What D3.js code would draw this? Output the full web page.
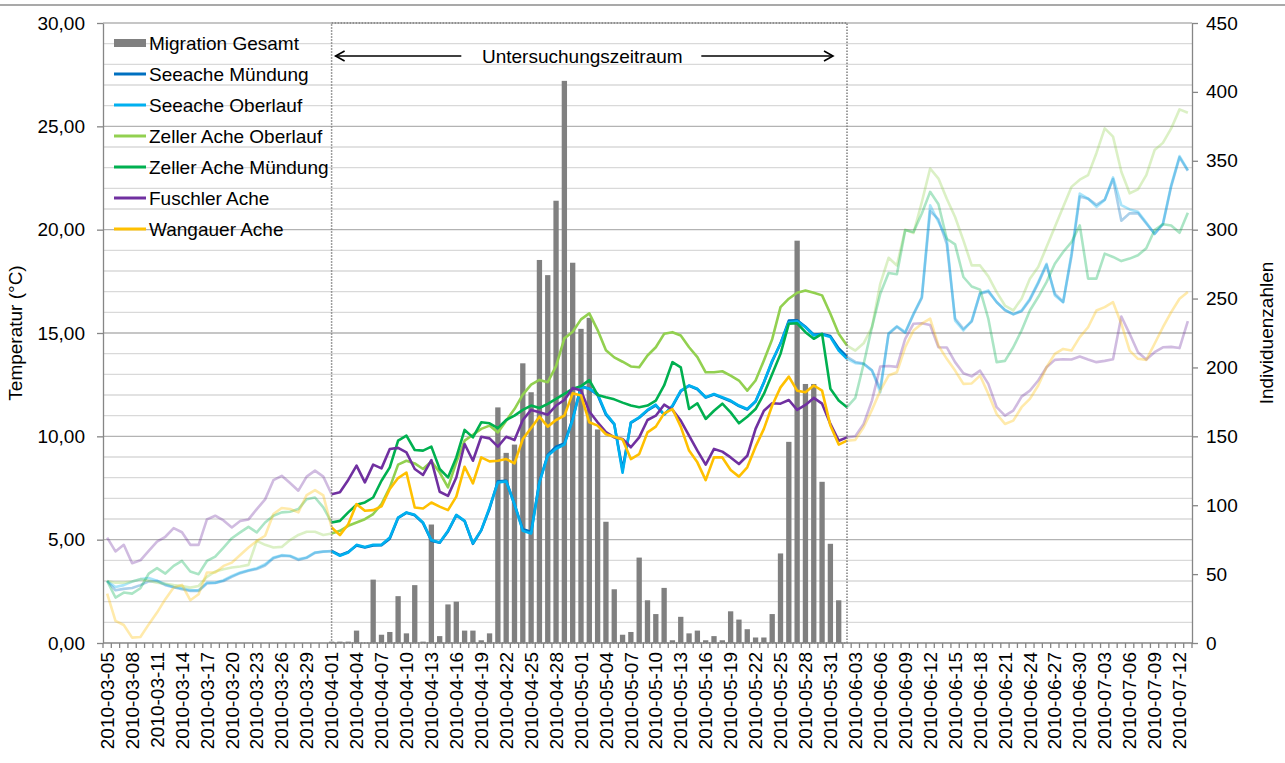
<!DOCTYPE html>
<html>
<head>
<meta charset="utf-8">
<title>Migration und Wassertemperatur 2010</title>
<script src="https://cdn.jsdelivr.net/npm/d3@7"></script>
<style>
  body { margin: 0; background: white; }
  svg text { font-family: "Liberation Sans", Arial, sans-serif; fill: #000; }
  .grid-minor { stroke: #d9d9d9; stroke-width: 1.3px; }
  .grid-major { stroke: #b3b3b3; stroke-width: 1.3px; }
  .axis path, .axis line { stroke: #868686; stroke-width: 1.3px; }
  .bar { fill: #808080; }
  .study { fill: none; stroke: #7f7f7f; stroke-width: 1.5px; stroke-dasharray: 1.5 1.5; }
</style>
</head>
<body>
<svg id="chart" width="1285" height="763"></svg>
<script>
// categories: one per day, 2010-03-05 .. 2010-07-13
const dates = d3.timeDay.range(new Date(2010, 2, 5), new Date(2010, 6, 14)).map(d3.timeFormat("%Y-%m-%d"));
const studyStart = "2010-04-01";
const studyEnd = "2010-06-02";

// Migration Gesamt (individuals per day), 2010-04-01 .. 2010-06-01
const migrationStart = "2010-04-01";
const migration = [
  1, 1, 1, 9, 0, 46, 6, 8, 34, 7, 42, 1, 86, 5, 28, 30, 9, 9, 2, 7,
  171, 138, 144, 203, 182, 278, 267, 321, 408, 276, 228, 236, 155, 88, 39, 6, 8, 62, 31, 21,
  40, 2, 19, 7, 9, 2, 5, 2, 23, 17, 10, 4, 4, 21, 65, 146, 292, 188, 188, 117,
  72, 31
];

// water temperature (°C), one value per day in dates
const seeacheMuendung = [
  3.0, 2.55, 2.62, 2.66, 2.8, 2.98, 3.0, 2.8, 2.7, 2.6, 2.52, 2.52, 2.88, 2.9, 3.0, 3.2, 3.38, 3.5, 3.58, 3.75, 4.1, 4.22, 4.2, 4.02, 4.12, 4.36, 4.42,
  4.45, 4.25, 4.4, 4.72, 4.62, 4.72, 4.73, 5.05, 6.05, 6.3, 6.18, 5.8, 4.95, 4.85, 5.4, 6.18, 5.9, 4.8, 5.45, 6.5, 7.82, 7.85, 6.7, 5.5, 5.38, 7.8, 9.1, 9.5, 9.66, 10.85, 12.42, 12.3, 12.0, 11.05, 10.58,
  8.4, 10.65, 10.9, 11.25, 11.5, 11.05, 11.45, 12.18, 12.45, 12.28, 11.88, 12.02, 11.86, 11.7, 11.46, 11.3, 11.68, 12.6, 13.62, 14.5, 15.6, 15.62, 15.3, 14.92, 14.95, 14.85, 14.25, 13.85,
  13.6, 13.52, 13.2, 12.3, 14.95, 15.3, 15.0, 15.9, 16.7, 20.9, 20.5, 19.3, 15.7, 15.2, 15.55, 16.9, 17.0, 16.5, 16.1, 15.9, 16.05, 16.6, 17.4, 18.3, 16.9, 16.5, 18.7, 21.6, 21.5, 21.2, 21.45, 22.45, 20.43, 20.79, 20.8, 20.3, 19.8, 20.25, 22.1, 23.5, 22.85
];
const seeacheOberlauf = [
  3.0, 2.71, 2.8, 2.97, 3.09, 3.14, 3.01, 2.84, 2.71, 2.65, 2.55, 2.55, 2.92, 2.92, 3.04, 3.25, 3.41, 3.52, 3.62, 3.81, 4.14, 4.25, 4.22, 4.06, 4.14, 4.38, 4.43,
  4.43, 4.22, 4.38, 4.75, 4.65, 4.75, 4.75, 5.1, 6.07, 6.32, 6.2, 5.83, 4.98, 4.86, 5.43, 6.2, 5.91, 4.83, 5.46, 6.56, 7.77, 7.82, 6.72, 5.43, 5.3, 7.77, 9.06, 9.4, 9.6, 10.8, 12.4, 12.3, 12.05, 11.1, 10.6,
  8.24, 10.68, 10.92, 11.28, 11.53, 11.05, 11.49, 12.21, 12.46, 12.3, 11.89, 12.05, 11.89, 11.73, 11.49, 11.32, 11.7, 12.62, 13.67, 14.48, 15.52, 15.57, 15.28, 14.88, 14.93, 14.8, 14.15, 13.75,
  13.54, 13.5, 13.18, 12.13, 14.99, 15.33, 15.04, 15.93, 16.74, 21.18, 20.37, 19.56, 15.6, 15.12, 15.6, 16.93, 17.06, 16.49, 16.12, 15.91, 16.09, 16.66, 17.46, 18.35, 16.82, 16.49, 18.84, 21.75, 21.5, 21.1, 21.43, 22.53, 21.19, 20.98, 20.87, 20.34, 19.79, 20.3, 22.16, 23.56, 22.88
];
const zellerOberlauf = [
  3.0, 2.92, 2.92, 2.97, 3.09, 3.01, 2.92, 2.87, 2.81, 2.76, 2.68, 2.76, 3.2, 3.46, 3.57, 3.65, 3.7, 3.78, 4.94, 4.75, 4.62, 4.65, 4.98, 5.23, 5.38, 5.38, 5.23,
  5.3, 5.43, 5.67, 5.83, 5.99, 6.24, 6.72, 7.53, 8.63, 8.82, 8.69, 8.42, 8.79, 8.25, 7.53, 8.74, 9.79, 10.08, 10.36, 10.52, 10.19, 10.76, 11.32, 12.02, 12.5, 12.73, 12.62, 13.4, 14.74, 15.06, 15.66, 15.95, 15.14, 14.17, 13.82,
  13.61, 13.38, 13.34, 13.91, 14.31, 14.96, 15.04, 14.88, 14.31, 13.83, 13.1, 13.1, 13.15, 12.94, 12.7, 12.21, 12.7, 13.67, 14.7, 16.25, 16.66, 16.95, 17.06, 16.95, 16.82, 15.93, 14.96, 14.39,
  14.15, 14.5, 15.28, 17.38, 18.64, 18.27, 20.0, 19.84, 21.34, 22.96, 22.47, 21.5, 20.61, 19.48, 18.27, 18.27, 17.74, 16.98, 16.33, 16.09, 16.66, 17.63, 18.19, 19.16, 20.13, 21.1, 22.07, 22.42, 22.64, 23.7, 24.9, 24.5, 22.8, 21.76, 21.95, 22.64, 23.85, 24.2, 24.9, 25.82, 25.66
];
const zellerMuendung = [
  3.0, 2.2, 2.44, 2.39, 2.65, 3.36, 3.62, 3.36, 3.73, 3.97, 3.46, 3.33, 3.97, 4.18, 4.62, 5.07, 5.35, 5.62, 5.35, 5.83, 6.16, 6.32, 6.35, 6.48, 6.96, 7.04, 6.56,
  5.83, 5.91, 6.32, 6.69, 6.8, 7.04, 7.85, 8.5, 9.79, 10.03, 9.34, 9.31, 9.5, 8.42, 8.01, 8.98, 10.31, 9.95, 10.68, 10.63, 10.4, 10.79, 11.0, 11.28, 11.49, 11.37, 11.57, 11.81, 12.05, 12.3, 12.43, 12.72, 12.0, 11.89, 11.79,
  11.63, 11.49, 11.41, 11.49, 11.73, 12.46, 13.59, 13.34, 11.32, 11.6, 10.84, 11.24, 11.58, 11.16, 10.63, 10.95, 11.32, 12.05, 13.02, 13.99, 15.45, 15.47, 15.04, 14.72, 14.96, 12.3, 11.73, 11.41,
  11.86, 13.5, 15.28, 16.9, 17.9, 17.84, 19.97, 19.89, 20.78, 21.83, 21.23, 19.56, 19.29, 17.71, 17.25, 17.1, 15.69, 13.59, 13.65, 14.31, 15.12, 16.09, 16.74, 17.46, 18.35, 18.92, 19.4, 20.21, 17.63, 17.63, 18.84, 18.68, 18.48, 18.6, 18.76, 19.1, 19.98, 20.26, 20.2, 19.85, 20.82
];
const fuschlerAche = [
  5.1, 4.43, 4.75, 3.86, 4.0, 4.46, 4.91, 5.14, 5.56, 5.36, 4.75, 4.75, 5.98, 6.16, 5.93, 5.59, 5.9, 5.98, 6.48, 6.95, 7.88, 8.09, 7.74, 7.37, 8.05, 8.34, 8.05,
  7.2, 7.29, 7.89, 8.58, 7.77, 8.63, 8.45, 9.39, 9.44, 9.22, 8.42, 8.13, 8.85, 7.32, 7.12, 8.01, 9.63, 8.82, 9.98, 9.9, 9.5, 9.98, 9.82, 10.79, 11.28, 11.17, 11.05, 11.49, 11.76, 12.34, 12.22, 11.2, 10.68, 10.2, 9.95,
  9.87, 9.47, 9.95, 10.79, 11.0, 11.53, 11.28, 10.76, 10.03, 9.31, 8.63, 9.39, 9.26, 8.98, 8.66, 9.06, 10.36, 11.24, 11.6, 11.58, 11.76, 11.28, 11.52, 11.86, 11.58, 10.6, 9.79, 9.95,
  10.0, 10.6, 11.73, 13.38, 13.4, 13.36, 14.72, 15.45, 15.47, 15.39, 14.31, 14.3, 13.59, 13.05, 12.9, 13.18, 12.54, 11.41, 11.0, 11.24, 11.92, 12.21, 12.7, 13.34, 13.7, 13.73, 13.72, 13.86, 13.72, 13.59, 13.65, 13.73, 15.8, 14.96, 14.07, 13.72, 14.07, 14.31, 14.33, 14.27, 15.57
];
const wangauerAche = [
  2.39, 1.07, 0.87, 0.26, 0.29, 0.9, 1.47, 2.12, 2.68, 2.81, 2.07, 2.36, 3.41, 3.41, 3.73, 3.89, 4.26, 4.62, 4.94, 5.19, 6.24, 6.53, 6.48, 6.32, 7.16, 7.4, 7.14,
  5.59, 5.22, 5.75, 6.72, 6.4, 6.43, 6.61, 7.45, 7.98, 8.25, 6.56, 6.51, 6.8, 6.6, 6.43, 7.08, 8.53, 7.72, 8.98, 8.79, 8.82, 8.9, 8.69, 9.87, 10.4, 10.95, 10.47, 10.79, 11.0, 12.08, 11.98, 10.68, 10.52, 10.1, 9.98,
  9.85, 8.9, 9.14, 10.19, 10.47, 11.11, 11.32, 10.47, 9.31, 8.74, 7.88, 8.98, 8.98, 8.37, 8.05, 8.5, 9.5, 10.36, 11.49, 12.37, 12.89, 12.21, 12.13, 12.46, 12.21, 10.52, 9.6, 9.79,
  9.83, 10.44, 11.28, 12.21, 12.94, 13.1, 14.31, 15.12, 15.45, 15.69, 14.39, 13.75, 13.18, 12.54, 12.56, 12.94, 12.05, 11.08, 10.6, 10.76, 11.41, 11.81, 12.46, 13.34, 13.99, 14.23, 14.15, 14.8, 15.28, 16.09, 16.25, 16.49, 15.45, 14.15, 13.75, 13.7, 14.48, 15.28, 16.01, 16.66, 16.98
];

const seriesNames = ["Seeache Mündung", "Seeache Oberlauf", "Zeller Ache Oberlauf", "Zeller Ache Mündung", "Fuschler Ache", "Wangauer Ache"];
const seriesValues = [seeacheMuendung, seeacheOberlauf, zellerOberlauf, zellerMuendung, fuschlerAche, wangauerAche];
const seriesColors = ["#0070c0", "#00b0f0", "#92d050", "#00b050", "#7030a0", "#ffc000"];
const barName = "Migration Gesamt";

const tempTicks = d3.range(0, 31, 5);
const countTicks = d3.range(0, 451, 50);

const svg = d3.select("#chart");
const margin = { top: 23, right: 93, bottom: 120, left: 103 };
const W = +svg.attr("width"), H = +svg.attr("height");
const plotW = W - margin.left - margin.right;
const plotTop = margin.top;
const bottomY = H - margin.bottom;
const fs = 19;

const x = d3.scaleBand().domain(dates).range([margin.left, margin.left + plotW]).paddingInner(0.36).paddingOuter(0.18);
const cx = d => x(d) + x.bandwidth() / 2;
const yT = d3.scaleLinear().domain([0, 30]).range([bottomY, plotTop]);
const yN = d3.scaleLinear().domain([0, 450]).range([bottomY, plotTop]);

// frame line at top of picture
svg.append("line").attr("x1", 0).attr("x2", W).attr("y1", 5).attr("y2", 5)
  .attr("stroke", "#8c8c8c").attr("stroke-width", 1.3);

// horizontal gridlines every 1 °C
svg.append("g").selectAll("line").data(d3.range(1, 31)).join("line")
  .attr("class", d => d % 5 === 0 ? "grid-major" : "grid-minor")
  .attr("x1", margin.left).attr("x2", margin.left + plotW)
  .attr("y1", d => yT(d)).attr("y2", d => yT(d));

// bars
const i0 = dates.indexOf(migrationStart);
svg.append("g").selectAll("rect").data(migration).join("rect")
  .attr("class", "bar")
  .attr("x", (d, i) => x(dates[i0 + i]))
  .attr("width", x.bandwidth())
  .attr("y", d => yN(d))
  .attr("height", d => bottomY - yN(d));

// lines: faded outside the study period, full colour inside
const s0 = dates.indexOf(studyStart), s1 = dates.indexOf(studyEnd);
const line = d3.line().x(d => cx(dates[d[0]])).y(d => yT(d[1]));
const pieces = (vals, a, b) => vals.map((v, i) => [i, v]).filter(p => p[0] >= a && p[0] <= b);

const lines = svg.append("g").attr("fill", "none").attr("stroke-width", 2.6).attr("stroke-linejoin", "round");
seriesValues.forEach((vals, k) => {
  [[0, s0], [s1, dates.length - 1]].forEach(([a, b]) => {
    lines.append("path").attr("d", line(pieces(vals, a, b)))
      .attr("stroke", seriesColors[k]).attr("stroke-opacity", 0.33);
  });
});
seriesValues.forEach((vals, k) => {
  lines.append("path").attr("d", line(pieces(vals, s0, s1))).attr("stroke", seriesColors[k]);
});

// study period box
svg.append("rect").attr("class", "study")
  .attr("x", cx(studyStart)).attr("y", plotTop)
  .attr("width", cx(studyEnd) - cx(studyStart)).attr("height", bottomY - plotTop);

// annotation with arrows
const midX = (cx(studyStart) + cx(studyEnd)) / 2 - 7;
const arrowY = 56;
svg.append("text").attr("x", midX).attr("y", arrowY).attr("dy", "0.35em")
  .attr("text-anchor", "middle").style("font-size", fs + "px").text("Untersuchungszeitraum");
const arr = svg.append("g").attr("stroke", "#000").attr("stroke-width", 1.6).attr("fill", "none");
const aL = cx(studyStart) + 4, aR = cx(studyEnd) - 14;
arr.append("line").attr("x1", aL).attr("x2", midX - 121).attr("y1", arrowY).attr("y2", arrowY);
arr.append("polyline").attr("points", `${aL + 9},${arrowY - 5} ${aL},${arrowY} ${aL + 9},${arrowY + 5}`);
arr.append("line").attr("x1", midX + 119).attr("x2", aR).attr("y1", arrowY).attr("y2", arrowY);
arr.append("polyline").attr("points", `${aR - 9},${arrowY - 5} ${aR},${arrowY} ${aR - 9},${arrowY + 5}`);

// axes
const fmtT = d => d3.format(".2f")(d).replace(".", ",");
const gL = svg.append("g").attr("class", "axis").attr("transform", `translate(${margin.left},0)`)
  .call(d3.axisLeft(yT).tickValues(tempTicks).tickFormat(fmtT).tickSize(6).tickPadding(12).tickSizeOuter(0));
gL.selectAll("text").style("font-size", fs + "px").style("font-family", "Liberation Sans, Arial, sans-serif");

const gR = svg.append("g").attr("class", "axis").attr("transform", `translate(${margin.left + plotW},0)`)
  .call(d3.axisRight(yN).tickValues(countTicks).tickSize(6).tickPadding(8).tickSizeOuter(0));
gR.selectAll("text").style("font-size", fs + "px").style("font-family", "Liberation Sans, Arial, sans-serif");

// x axis: a tick at every day boundary, a label every third day
const gX = svg.append("g").attr("class", "axis");
gX.append("line").attr("x1", margin.left).attr("x2", margin.left + plotW).attr("y1", bottomY).attr("y2", bottomY);
gX.selectAll("line.tick").data(d3.range(dates.length + 1)).join("line").attr("class", "tick")
  .attr("x1", i => margin.left + i * x.step()).attr("x2", i => margin.left + i * x.step())
  .attr("y1", bottomY).attr("y2", bottomY + 5);
svg.append("g").selectAll("text").data(dates.filter((d, i) => i % 3 === 0 && i < dates.length - 1)).join("text")
  .attr("transform", d => `translate(${cx(d)},${bottomY + 9}) rotate(-90)`)
  .attr("text-anchor", "end").attr("dy", "0.35em")
  .style("font-size", fs + "px").text(d => d);

// axis titles
svg.append("text").attr("transform", `translate(15,${(plotTop + bottomY) / 2}) rotate(-90)`)
  .attr("text-anchor", "middle").attr("dy", "0.35em").style("font-size", fs + "px").text("Temperatur (°C)");
svg.append("text").attr("transform", `translate(1266,${(plotTop + bottomY) / 2}) rotate(-90)`)
  .attr("text-anchor", "middle").attr("dy", "0.35em").style("font-size", fs + "px").text("Individuenzahlen");

// legend
const legend = svg.append("g").attr("transform", "translate(114,43)");
const legItems = [barName].concat(seriesNames);
legItems.forEach((name, k) => {
  const g = legend.append("g").attr("transform", `translate(0,${k * 31})`);
  if (k === 0) {
    g.append("rect").attr("x", 0).attr("y", -4).attr("width", 32).attr("height", 8).attr("fill", "#808080");
  } else {
    g.append("line").attr("x1", 0).attr("x2", 32).attr("y1", 0).attr("y2", 0)
      .attr("stroke", seriesColors[k - 1]).attr("stroke-width", 3);
  }
  g.append("text").attr("x", 35).attr("dy", "0.35em").style("font-size", fs + "px").text(name);
});
</script>
</body>
</html>
